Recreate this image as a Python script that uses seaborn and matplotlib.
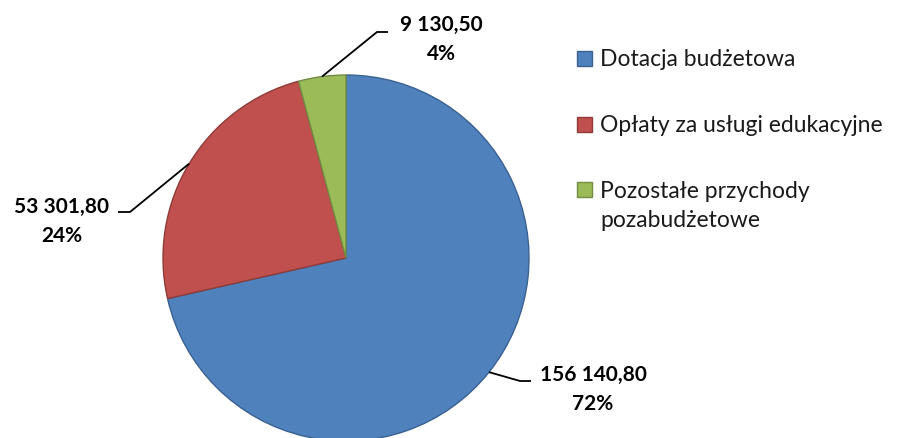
import matplotlib
matplotlib.use("Agg")
import matplotlib.pyplot as plt
from matplotlib.patches import Rectangle
import seaborn as sns
import numpy as np

categories = ["Dotacja budżetowa", "Opłaty za usługi edukacyjne",
              "Pozostałe przychody\npozabudżetowe"]
values = [156140.80, 53301.80, 9130.50]
value_labels = ["156 140,80", "53 301,80", "9 130,50"]
percent_labels = ["72%", "24%", "4%"]
colors = ["#4F81BD", "#C0504D", "#9BBB59"]
edge_colors = ["#3A6190", "#8E3B39", "#728C42"]

sns.set_theme(style="white")
plt.rcParams["font.family"] = ["Lato", "DejaVu Sans"]

W, H = 901, 438
fig = plt.figure(figsize=(W / 100, H / 100), dpi=100)
ax = fig.add_axes([0, 0, 1, 1])

cx, cy, r = 346, H - 258, 183
wedges, _ = ax.pie(values, colors=colors, startangle=90, counterclock=False,
                   center=(cx, cy), radius=r, frame=True,
                   wedgeprops=dict(linewidth=1.0))
for w, ec in zip(wedges, edge_colors):
    w.set_edgecolor(ec)

ax.set_xlim(0, W)
ax.set_ylim(0, H)
ax.set_aspect("equal")
ax.axis("off")

# label layout: (elbow, end, text x, last-line baseline) in pixel coords from top
layout = [
    ((520, 381), (531, 381), 593, 410),
    ((130, 212), (118, 212), 62, 242),
    ((377, 32), (388, 32), 441, 60),
]
for w, vl, pl, (elbow, end, tx, tb) in zip(wedges, value_labels, percent_labels, layout):
    mid = np.deg2rad((w.theta1 + w.theta2) / 2)
    px = cx + r * np.cos(mid)
    py = cy + r * np.sin(mid)
    ax.plot([px, elbow[0], end[0]], [py, H - elbow[1], H - end[1]],
            color="black", lw=1.3, solid_capstyle="butt")
    ax.text(tx, H - tb, f"{vl}\n{pl}", ha="center", va="baseline",
            fontsize=15, fontweight="bold", color="black", linespacing=1.55)

# legend (manual, to keep the swatch aligned with the first text line)
swatch_rows = [65.7, 131.7, 196.7]
text_rows = [65.7, 131.7, 226.7]
for w, cat, sb, tb in zip(wedges, categories, swatch_rows, text_rows):
    ax.add_patch(Rectangle((577, H - sb), 15, 15, facecolor=w.get_facecolor(),
                           edgecolor=w.get_edgecolor(), lw=1.0))
    ax.text(600, H - tb, cat, ha="left", va="baseline", fontsize=16.5,
            color="#1a1a1a", linespacing=1.45)

fig.savefig("out.png", dpi=100)
